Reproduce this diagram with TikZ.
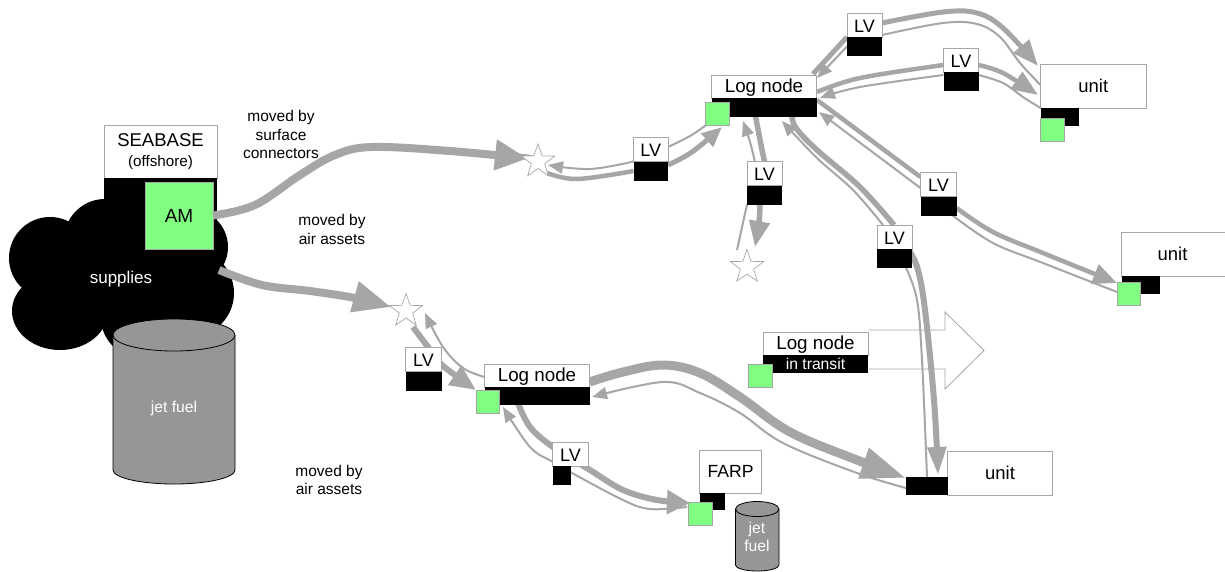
\documentclass[tikz,border=0pt]{standalone}
\usepackage{fontspec}
\setmainfont{Liberation Sans}
\usetikzlibrary{arrows.meta,shapes.geometric,calc}
\definecolor{lng}{HTML}{A6A6A6}
\definecolor{grn}{HTML}{80FF80}
\definecolor{cyl}{HTML}{969696}
\pgfdeclarelayer{base}
\pgfdeclarelayer{lines}
\pgfsetlayers{base,lines,main}
\newcommand{\fs}[1]{\fontsize{#1}{#1}\selectfont}
\tikzset{
  rbox/.style n args={2}{rectangle,inner sep=0pt,outer sep=0pt,anchor=north west,minimum width=#1pt,minimum height=#2pt},
  wbox/.style n args={2}{rbox={#1}{#2},draw=lng,line width=0.9pt,fill=white},
  kbox/.style n args={2}{rbox={#1}{#2},fill=black},
  gbox/.style={rbox={23.5}{23.5},draw=lng,line width=1pt,fill=grn},
  lvtext/.style={font=\fs{18},text depth=0pt,text height=14pt},
  logtext/.style={font=\fs{18.8},text depth=2.5pt,text height=14pt},
  note/.style={font=\fs{15.5},align=center,inner sep=0pt},
  starnode/.style={star,star points=5,star point ratio=2.5,minimum size=35pt,inner sep=0pt,outer sep=0pt,draw=lng,line width=0.7pt,fill=white},
  conn/.style={draw=lng,line width=#1,line cap=butt},
  hd/.style n args={2}{-{Triangle[length=#1pt,width=#2pt,fill=lng,color=lng]}},
  thinhd/.style={-{Triangle[length=15pt,width=12pt,fill=lng,color=lng]}},
}
\newcommand{\lvbox}[5]{%
  \node[wbox={#4}{24},lvtext] (#1) at (#2,#3) {LV};
  \node[kbox={#4}{19}] (#1k) at (#2,#3+24) {};
}
\begin{document}
\begin{tikzpicture}[x=1pt,y=-1pt]
\useasboundingbox (0,0) rectangle (1225,571);

% ---- seabase and cloud
\begin{pgfonlayer}{base}
  \fill[white] (0,0) rectangle (1225,571);
  \fill[black] (50,258) circle [radius=41pt];
  \fill[black] (105,240) circle [radius=41pt];
  \fill[black] (190,247) circle [radius=38pt];
  \fill[black] (190,293) circle [radius=44pt];
  \fill[black] (60,311) ellipse [x radius=48pt,y radius=39pt];
  \fill[black] (140,318) circle [radius=39pt];
  \fill[black] (60,230) rectangle (200,320);
  \node[wbox={113}{53},align=center,font=\fs{18.5}] (seabase) at (104,125) {SEABASE\\[1pt]{\fs{15.2}(offshore)}};
  \node[kbox={113}{75}] (seabasek) at (104,178) {};
  \node[rbox={68}{67},draw=lng,line width=1pt,fill=grn,font=\fs{19}] (am) at (145,182) {AM};
\end{pgfonlayer}
\node[text=white,font=\fs{17},inner sep=0pt] (supplies) at (121,279) {supplies};

% ---- big cylinder
\draw[black,line width=0.8pt,fill=cyl] (113,335) -- (113,470) .. controls (113,477.7) and (140.3,484) .. (174,484) .. controls (207.7,484) and (235,477.7) .. (235,470) -- (235,335);
\draw[black,line width=0.8pt,fill=cyl] (174,335) ellipse [x radius=61pt,y radius=16pt];
\node[text=white,font=\fs{15.7},inner sep=0pt] (jetbig) at (174,408) {jet fuel};

% ---- small cylinder
\draw[black,line width=0.8pt,fill=cyl] (735.5,509) -- (735.5,565) .. controls (735.5,568.3) and (745,571) .. (757.2,571) .. controls (769.4,571) and (779,568.3) .. (779,565) -- (779,509);
\draw[black,line width=0.8pt,fill=cyl] (757.2,509) ellipse [x radius=21.7pt,y radius=7.5pt];
\node[text=white,font=\fs{15.7},align=center,inner sep=0pt] (jetsmall) at (757,537) {jet\\[2pt]fuel};

% ---- notes
\node[note] (n1) at (281,134.5) {moved by\\[3pt]surface\\[3pt]connectors};
\node[note] (n2) at (332,229.5) {moved by\\[3pt]air assets};
\node[note] (n3) at (329,480) {moved by\\[3pt]air assets};

% ---- stars
\node[starnode] (star1) at (538,161.5) {};
\node[starnode] (star2) at (406,311) {};
\node[starnode] (star3) at (747,267) {};

% ---- LV boxes
\lvbox{lva}{633.5}{137.5}{34.5}{}
\lvbox{lvb}{847}{13}{35}{}
\lvbox{lvc}{943.5}{48}{35}{}
\lvbox{lvd}{747}{161.5}{35}{}
\lvbox{lve}{877}{225}{35}{}
\lvbox{lvf}{920.5}{172.5}{36}{}
\lvbox{lvg}{405.5}{347.5}{36}{}
\node[wbox={36}{24},lvtext] (lvh) at (552.5,442) {LV};
\node[kbox={18}{19}] (lvhk) at (552.5,466) {};

% ---- log nodes
\node[wbox={105}{23},logtext] (log1) at (711.5,75) {Log node};
\node[kbox={105}{18.5}] (log1k) at (711.5,98) {};
\node[gbox] (log1g) at (705.5,102) {};
\node[wbox={105}{23},logtext] (log2) at (484.5,364) {Log node};
\node[kbox={105}{18}] (log2k) at (484.5,387) {};
\node[gbox] (log2g) at (476,390) {};
\node[wbox={105}{23},logtext] (log3) at (763,332) {Log node};
\node[kbox={105}{18},text=white,font=\fs{15.7}] (log3k) at (763,355) {in transit};
\node[gbox] (log3g) at (748.5,364) {};

% ---- units and FARP
\node[wbox={105.5}{43.5},font=\fs{18.5}] (unit1) at (1040.5,64.5) {unit};
\node[kbox={38.5}{17.5}] (unit1k) at (1040.5,108) {};
\node[gbox] (unit1g) at (1040.5,118) {};
\node[wbox={110}{44},font=\fs{18.5}] (unit2) at (1121.5,232) {\hspace*{-4pt}unit\hspace*{4pt}};
\node[kbox={38.5}{18}] (unit2k) at (1121.5,276) {};
\node[gbox] (unit2g) at (1117,282) {};
\node[wbox={105}{44},font=\fs{18.5}] (unit3) at (947.5,451) {unit};
\node[kbox={42}{18}] (unit3k) at (906,477) {};
\node[wbox={62}{43},font=\fs{17.6}] (farp) at (699.5,450) {FARP};
\node[kbox={25}{17}] (farpk) at (699.5,493) {};
\node[gbox] (farpg) at (688.5,502) {};

% ---- free ends of the connectors
\coordinate (sup) at (219,270);
\coordinate (s1a) at (528,158.5);
\coordinate (s1b) at (548,165);
\coordinate (s1c) at (547,173);
\coordinate (s2a) at (391,307);
\coordinate (s2b) at (413,327);
\coordinate (s2c) at (425,313);
\coordinate (s3a) at (755,247);
\coordinate (s3b) at (737,250);
\coordinate (lvaout) at (668,165);
\coordinate (log1in) at (722,127);
\coordinate (lvdthin) at (755,162);
\coordinate (lvdout) at (760,204);
\coordinate (lvethin) at (883,225);
\coordinate (lvein) at (894,225);
\coordinate (lveout) at (910,252);
\coordinate (lvethout) at (906,268);

\begin{pgfonlayer}{lines}
% hollow transit arrow
\draw[lng,line width=0.8pt] (869,330) -- (945,330) -- (945,312) -- (984,350.5) -- (945,389) -- (945,369) -- (869,369);

% AM to first star, supplies to second star
\draw[conn=8pt,hd={33}{29}] plot[smooth,tension=.6] coordinates {(am.east) (255,205) (300,175) (335,155) (372,147) (450,151) (s1a)};
\draw[conn=8pt,hd={38}{30}] plot[smooth,tension=.6] coordinates {(sup) (262,285) (310,291) (355,298) (s2a)};

% first star <-> LV <-> log node 1
\draw[conn=2pt,thinhd] plot[smooth,tension=.6] coordinates {(lva.south west) (590,169) (s1b)};
\draw[conn=4.5pt] plot[smooth,tension=.6] coordinates {(s1c) (577,179) (lvak.west)};
\draw[conn=5pt,hd={20}{17}] plot[smooth,tension=.6] coordinates {(lvaout) (692,152) (log1in)};
\draw[conn=2pt] plot[smooth,tension=.6] coordinates {(668,147) (690,136) (log1g.south west)};

% log node 1 -> LV -> second star etc.
\draw[conn=5.5pt] plot[smooth,tension=.6] coordinates {(755.5,116) (761,145) (lvd.north)};
\draw[conn=5.5pt,hd={26}{20}] plot[smooth,tension=.6] coordinates {(lvdout) (759,222) (s3a)};
\draw[conn=2pt,thinhd] plot[smooth,tension=.6] coordinates {(lvdthin) (750,142) (743,121)};
\draw[conn=2pt] plot[smooth,tension=.6] coordinates {(s3b) (lvdk.south west)};

% log node 1 -> LV -> unit 3
\draw[conn=5.5pt] plot[smooth,tension=.6] coordinates {(792,116) (796,128) (817,150) (860,187) (lvein)};
\draw[conn=6pt,hd={28}{18}] plot[smooth,tension=.6] coordinates {(lveout) (918,270) (925,310) (934,400) (938,475)};
\draw[conn=2pt,thinhd] plot[smooth,tension=.6] coordinates {(lvethin) (853,190) (817,158) (782,121)};
\draw[conn=2pt] plot[smooth,tension=.6] coordinates {(unit3k.north) (922,360) (917,300) (lvethout)};

% log node 1 -> LV -> unit 1 (upper)
\draw[conn=5pt] plot[smooth,tension=.6] coordinates {(813,74) (lvb.south west)};
\draw[conn=5pt,hd={26}{20}] plot[smooth,tension=.6] coordinates {(882,23) (943,12) (977,13) (1003,28) (1038,66)};
\draw[conn=2pt,thinhd] plot[smooth,tension=.6] coordinates {(lvbk.west) (817,78)};
\draw[conn=2pt] plot[smooth,tension=.6] coordinates {(882,35) (943,23) (977,24) (1000,37) (1020,63) (1040.5,85)};

% log node 1 -> LV -> unit 1 (lower)
\draw[conn=4.5pt] plot[smooth,tension=.6] coordinates {(817,92) (860,78) (943.5,65)};
\draw[conn=4.5pt,hd={26}{20}] plot[smooth,tension=.6] coordinates {(978.5,65) (1003,73) (1038,95)};
\draw[conn=2pt,thinhd] plot[smooth,tension=.6] coordinates {(943.5,75) (860,87) (820,98)};
\draw[conn=2pt] plot[smooth,tension=.6] coordinates {(978.5,75) (1003,83) (1023,97) (1040.5,108)};

% log node 1 -> LV -> unit 2
\draw[conn=4.5pt] plot[smooth,tension=.6] coordinates {(817,100) (920.5,177)};
\draw[conn=4.5pt,hd={24}{20}] plot[smooth,tension=.6] coordinates {(956.5,208) (993,232) (1043,253) (1117,283)};
\draw[conn=2pt,thinhd] plot[smooth,tension=.6] coordinates {(920.5,188) (819,112)};
\draw[conn=2pt] plot[smooth,tension=.6] coordinates {(952,215) (993,243) (1043,263) (1117,292)};

% second star <-> LV <-> log node 2
\draw[conn=6pt,hd={26}{22}] plot[smooth,tension=.6] coordinates {(s2b) (428,347) (442,365) (log2g.north west)};
\draw[conn=2pt,thinhd] plot[smooth,tension=.6] coordinates {(484.5,377) (463,368) (443,347) (s2c)};

% log node 2 -> LV -> FARP
\draw[conn=6pt,hd={23}{23},line cap=round] plot[smooth,tension=.6] coordinates {(518,403) (530,427) (553,447) (590,470) (623,490) (657,500) (690,503)};
\draw[conn=2pt,thinhd] plot[smooth,tension=.6] coordinates {(687,507) (650,509) (623,500) (572,473) (553,462) (530,447) (503,407)};

% log node 2 -> unit 3
\draw[conn=9pt,hd={45}{30}] plot[smooth,tension=.6] coordinates {(589.5,382) (623,372) (663,365) (700,373) (740,397) (790,432) (857,460) (906,478)};
\draw[conn=2pt,thinhd] plot[smooth,tension=.6] coordinates {(906,488) (857,473) (783,443) (740,413) (700,393) (663,382) (592,397)};
\end{pgfonlayer}
\end{tikzpicture}
\end{document}
